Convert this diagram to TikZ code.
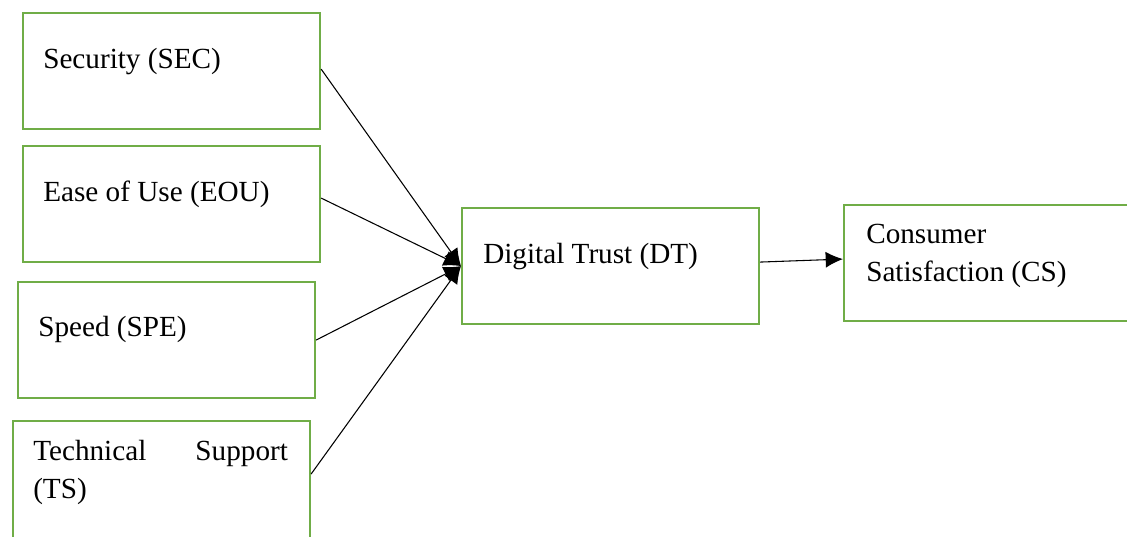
\documentclass[tikz,border=0pt]{standalone}
\usepackage{fontspec}
\setmainfont{Liberation Serif}
\usetikzlibrary{arrows.meta}
\definecolor{boxgreen}{HTML}{70AD47}
\begin{document}
\begin{tikzpicture}[x=0.75pt,y=-0.75pt,
  box/.style={draw=boxgreen, line width=1.6pt, rectangle, inner sep=0pt, anchor=north west,
              minimum width=222.75pt, minimum height=87pt},
  lbl/.style={anchor=base west, inner sep=0pt, align=left,
              font=\fontsize{21.9}{28.5}\selectfont},
  conn/.style={draw=black, line width=0.8pt, -{Latex[length=13pt,width=12pt]}}]
\useasboundingbox (0,0) rectangle (1127,536);
\clip (0,0) rectangle (1127,536);
% boxes
\node[box] (sec) at (22,12) {};
\node[box] (eou) at (22,145) {};
\node[box] (spe) at (17,281) {};
\node[box, minimum height=100pt] (ts) at (12,420) {};
\node[box] (dt) at (461,207) {};
\node[box, minimum width=240pt] (cs) at (843,204) {};
% labels (multi-line labels are placed by their last baseline)
\node[lbl] (secl) at (43,68) {Security (SEC)};
\node[lbl] (eoul) at (43,201) {Ease of Use (EOU)};
\node[lbl] (spel) at (38,336) {Speed (SPE)};
\node[lbl] (tsl) at (33,498) {\hbox to 191pt{Technical\hfill Support}\\(TS)};
\node[lbl] (dtl) at (483,263) {Digital Trust (DT)};
\node[lbl] (csl) at (866,281) {Consumer\\Satisfaction (CS)};
% connectors
\draw[conn] ([yshift=1.5pt]sec.east) -- (dt.west);
\draw[conn] ([yshift=4.5pt]eou.east) -- (dt.west);
\draw[conn] (spe.east) -- (dt.west);
\draw[conn] ([yshift=-40.5pt]ts.north east) -- (dt.west);
\draw[conn] ([yshift=3pt]dt.east) -- ([yshift=3pt]cs.west);
\end{tikzpicture}
\end{document}
